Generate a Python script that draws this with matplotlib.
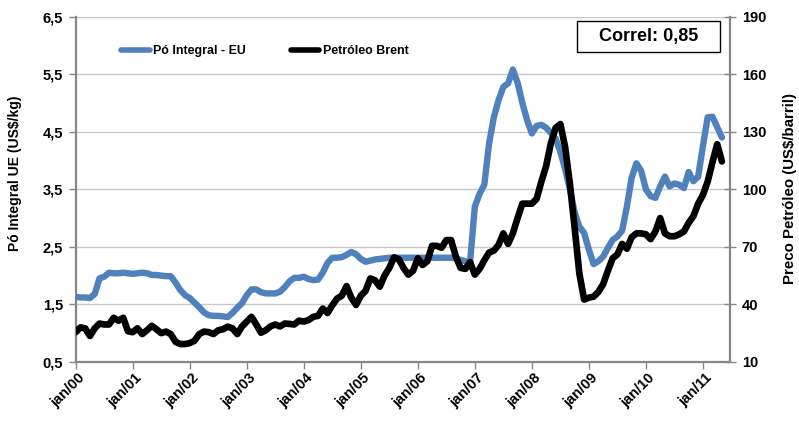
import matplotlib
matplotlib.use('Agg')
import matplotlib.pyplot as plt
import matplotlib.transforms as mtransforms
from matplotlib.patches import Rectangle
import numpy as np

# ---- data (monthly, jan/00 .. may/11) ----
po_integral = [
    1.63, 1.62, 1.62, 1.61, 1.68, 1.95, 1.98, 2.05, 2.04, 2.04, 2.05, 2.04,   # 2000
    2.03, 2.04, 2.05, 2.04, 2.01, 2.01, 2.00, 1.99, 1.99, 1.88, 1.75, 1.66,   # 2001
    1.61, 1.53, 1.45, 1.36, 1.31, 1.30, 1.30, 1.29, 1.28, 1.35, 1.44, 1.52,   # 2002
    1.66, 1.76, 1.76, 1.71, 1.69, 1.69, 1.69, 1.72, 1.80, 1.90, 1.96, 1.96,   # 2003
    1.98, 1.94, 1.92, 1.93, 2.05, 2.22, 2.31, 2.31, 2.32, 2.36, 2.41, 2.37,   # 2004
    2.29, 2.24, 2.26, 2.28, 2.29, 2.30, 2.31, 2.31, 2.31, 2.31, 2.31, 2.31,   # 2005
    2.31, 2.31, 2.31, 2.31, 2.31, 2.31, 2.31, 2.31, 2.30, 2.27, 2.25, 2.24,   # 2006
    3.20, 3.42, 3.58, 4.30, 4.75, 5.05, 5.28, 5.34, 5.58, 5.35, 5.00, 4.70,   # 2007
    4.47, 4.60, 4.62, 4.57, 4.48, 4.38, 4.15, 3.85, 3.50, 3.10, 2.85, 2.74,   # 2008
    2.45, 2.20, 2.25, 2.33, 2.48, 2.62, 2.68, 2.78, 3.20, 3.70, 3.95, 3.82,   # 2009
    3.50, 3.38, 3.35, 3.55, 3.72, 3.55, 3.60, 3.58, 3.52, 3.80, 3.64, 3.72,   # 2010
    4.25, 4.75, 4.76, 4.58, 4.40,                                             # 2011
]
brent = [
    25.5, 28.0, 27.5, 23.5, 27.5, 30.0, 29.5, 29.5, 33.0, 31.5, 33.0, 26.0,
    25.5, 27.5, 24.5, 26.5, 28.8, 27.0, 25.0, 25.8, 24.5, 20.5, 19.3, 19.3,
    19.8, 21.0, 24.5, 25.8, 25.5, 24.5, 26.5, 27.0, 28.4, 27.5, 24.5, 28.5,
    31.0, 33.5, 29.5, 25.2, 26.5, 28.5, 29.5, 28.5, 30.0, 29.8, 29.5, 31.5,
    31.0, 31.8, 33.5, 34.0, 37.8, 35.5, 39.5, 43.0, 44.5, 49.5, 43.5, 39.7,
    44.5, 47.0, 53.5, 52.5, 49.2, 55.0, 59.0, 64.5, 63.5, 59.0, 55.5, 57.5,
    64.0, 60.5, 62.5, 70.5, 70.5, 69.5, 73.5, 73.5, 65.0, 59.0, 58.5, 62.0,
    55.5, 58.5, 63.0, 67.0, 68.0, 71.0, 77.0, 71.5, 77.0, 85.0, 92.5, 92.5,
    92.5, 95.0, 104.0, 112.0, 124.0, 132.0, 134.0, 122.0, 103.0, 80.0, 56.0, 42.5,
    43.5, 44.0, 46.5, 50.5, 57.5, 64.0, 66.0, 71.5, 69.0, 75.0, 77.0, 77.0,
    76.5, 74.0, 78.0, 85.0, 77.0, 75.5, 75.5, 76.5, 78.0, 82.5, 86.0, 92.5,
    97.0, 104.0, 114.0, 123.5, 114.5,
]
year_labels = ['jan/00', 'jan/01', 'jan/02', 'jan/03', 'jan/04', 'jan/05',
               'jan/06', 'jan/07', 'jan/08', 'jan/09', 'jan/10', 'jan/11']
left_ticks = [0.5, 1.5, 2.5, 3.5, 4.5, 5.5, 6.5]
left_tick_labels = ['0,5', '1,5', '2,5', '3,5', '4,5', '5,5', '6,5']
right_ticks = [10, 40, 70, 100, 130, 160, 190]
series_names = ['Pó Integral - EU', 'Petróleo Brent']
correl_text = 'Correl: 0,85'

plt.rcParams['font.family'] = ['Liberation Sans', 'DejaVu Sans']
plt.rcParams['font.weight'] = 'bold'

BLUE = '#4F81BD'
GRAY = '#868686'
TICKFS = 10.5

fig = plt.figure(figsize=(7.99, 4.23), dpi=100)
ax = fig.add_axes([75.7 / 799, 1 - 361.9 / 423, (730 - 75.7) / 799, (361.9 - 16.6) / 423])
ax2 = ax.twinx()

x = np.arange(len(po_integral))
l1, = ax.plot(x, po_integral, color=BLUE, lw=4.6, solid_joinstyle='round',
              solid_capstyle='round', label=series_names[0], zorder=3)
l2, = ax2.plot(np.arange(len(brent)), brent, color='black', lw=4.8,
               solid_joinstyle='round', solid_capstyle='round',
               label=series_names[1], zorder=3)

ax.set_xlim(0, 137.7)
ax.set_ylim(0.5, 6.5)
ax2.set_ylim(10, 190)

ax.set_yticks(left_ticks)
ax.set_yticklabels(left_tick_labels, fontsize=TICKFS, fontweight='bold')
ax2.set_yticks(right_ticks)
ax2.set_yticklabels([str(v) for v in right_ticks], fontsize=TICKFS, fontweight='bold')

xt = np.arange(0, 12 * len(year_labels), 12)
ax.set_xticks(xt)
ax.set_xticklabels([''] * len(xt))
trans = mtransforms.blended_transform_factory(ax.transData, ax.transAxes)
offset = mtransforms.ScaledTranslation(12 / 100, -9 / 100, fig.dpi_scale_trans)
for pos, lab in zip(xt, year_labels):
    ax.text(pos, 0, lab, transform=trans + offset, rotation=45, ha='right',
            va='top', fontsize=TICKFS, fontweight='bold', clip_on=False)

ax.grid(axis='y', color='#c8c8c8', lw=1.0, zorder=0)
ax.set_axisbelow(True)

ax.spines['top'].set_visible(False)
ax2.spines['top'].set_visible(False)
ax.spines['right'].set_visible(False)
ax2.spines['left'].set_visible(False)
ax2.spines['bottom'].set_visible(False)
for sp in [ax.spines['left'], ax.spines['bottom'], ax2.spines['right']]:
    sp.set_color(GRAY)
    sp.set_linewidth(1.6)

ax.tick_params(axis='y', direction='out', length=5, width=1, color=GRAY, pad=4)
ax.tick_params(axis='x', direction='out', length=5, width=1, color=GRAY, pad=3)
ax2.tick_params(axis='y', direction='inout', length=9, width=1, color=GRAY, pad=4)

fig.text(15 / 799, 1 - 173 / 423, 'Pó Integral UE (US$/kg)', rotation=90,
         ha='center', va='center', fontsize=10, fontweight='bold')
fig.text(790 / 799, 1 - 188 / 423, 'Preco Petróleo (US$/barril)', rotation=90,
         ha='center', va='center', fontsize=10.8, fontweight='bold')

leg = fig.legend(handles=[l1, l2], labels=series_names, ncol=2, frameon=False,
                 loc='center left', bbox_to_anchor=(110 / 799, 1 - 51 / 423),
                 prop={'size': 8.9, 'weight': 'bold'}, handlelength=2.3,
                 handletextpad=0.3, columnspacing=3.6)
for h in leg.get_lines():
    h.set_linewidth(4)

fig.patches.append(Rectangle((577 / 799, 1 - 52.3 / 423), 143 / 799, 31.6 / 423,
                             transform=fig.transFigure, fill=False,
                             edgecolor='black', lw=1.0))
fig.text(648.5 / 799, 1 - 36.5 / 423, correl_text, ha='center', va='center',
         fontsize=13, fontweight='bold')

fig.savefig('out.png', dpi=100)
